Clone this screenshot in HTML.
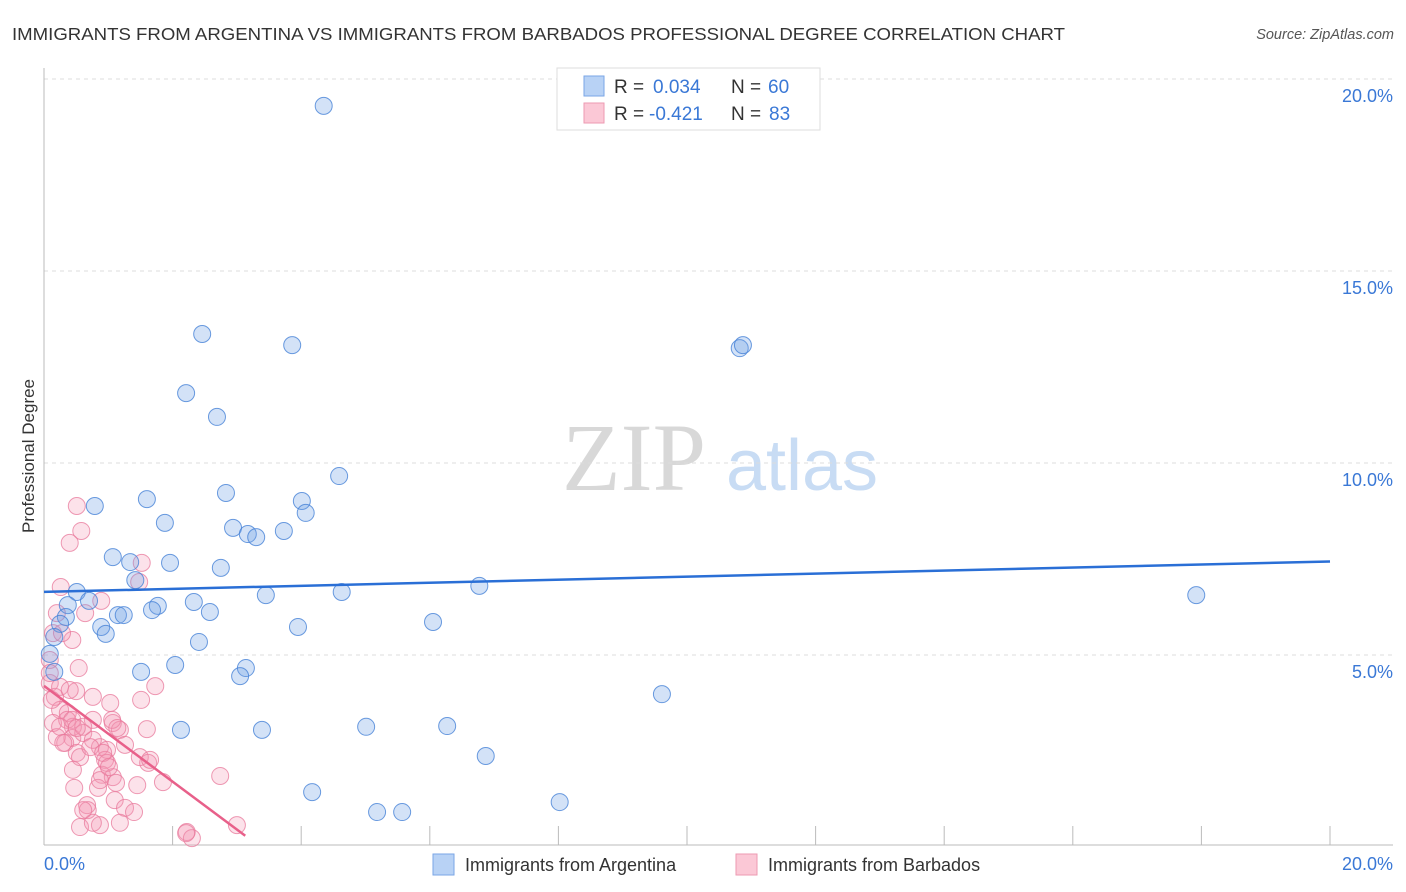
<!DOCTYPE html>
<html><head><meta charset="utf-8"><style>
html,body{margin:0;padding:0;background:#fff;}
svg{display:block;font-family:"Liberation Sans",sans-serif;}
</style></head><body>
<svg id="chart" width="1406" height="892" xmlns="http://www.w3.org/2000/svg">
<text x="12" y="40" font-size="17.5" fill="#333" textLength="1053" lengthAdjust="spacingAndGlyphs">IMMIGRANTS FROM ARGENTINA VS IMMIGRANTS FROM BARBADOS PROFESSIONAL DEGREE CORRELATION CHART</text>
<text x="1394" y="39" font-size="14.5" fill="#555" font-style="italic" text-anchor="end">Source: ZipAtlas.com</text>
<text transform="translate(34,456) rotate(-90)" font-size="17" fill="#333" text-anchor="middle">Professional Degree</text>
<g>
<text x="634" y="490" font-size="96" fill="#d8d8d8" font-family="Liberation Serif,serif" text-anchor="middle">ZIP</text>
<text x="802" y="490" font-size="72" fill="#c8dcf4" text-anchor="middle">atlas</text>
</g>
<g id="grid"></g>
<g id="axes"></g>
<g id="points"></g>
<g id="trends"></g>
<g>
<rect x="557" y="68" width="263" height="62" fill="#fff" stroke="#ddd"/>
<rect x="584" y="76" width="20" height="20" fill="#b8d2f5" stroke="#7aa6e6"/>
<rect x="584" y="103" width="20" height="20" fill="#fbc8d6" stroke="#ec9ab2"/>
<text x="614" y="93" font-size="19" fill="#333">R =</text>
<text x="653" y="93" font-size="19" fill="#3a78d6">0.034</text>
<text x="731" y="93" font-size="19" fill="#333">N =</text>
<text x="768" y="93" font-size="19" fill="#3a78d6">60</text>
<text x="614" y="120" font-size="19" fill="#333">R =</text>
<text x="649" y="120" font-size="19" fill="#3a78d6">-0.421</text>
<text x="731" y="120" font-size="19" fill="#333">N =</text>
<text x="769" y="120" font-size="19" fill="#3a78d6">83</text>
</g>
<g>
<rect x="433" y="854" width="21" height="21" fill="#b8d2f5" stroke="#7aa6e6"/>
<text x="465" y="871" font-size="18" fill="#333">Immigrants from Argentina</text>
<rect x="736" y="854" width="21" height="21" fill="#fbc8d6" stroke="#ec9ab2"/>
<text x="768" y="871" font-size="18" fill="#333">Immigrants from Barbados</text>
</g>
</svg>
<script>
const yTicks=[5,10,15,20];
const yTickLabels=["5.0%","10.0%","15.0%","20.0%"];
const xTickCount=10;
const xMin=0,xMax=20,yMin=0,yMax=20;
const argX=[4.35,2.46,3.86,10.82,10.87,2.21,2.69,4.59,0.79,1.60,2.83,4.01,4.07,1.88,2.94,3.17,3.30,3.73,1.07,1.34,1.96,2.75,1.42,6.77,0.51,4.63,3.45,17.92,0.70,2.33,1.77,1.68,2.58,0.37,1.15,1.24,0.34,0.25,0.89,3.95,6.05,0.96,0.16,2.41,0.09,2.04,3.14,3.05,1.51,0.16,9.61,2.13,3.39,5.01,6.27,6.87,4.17,8.02,5.18,5.57];
const argY=[19.30,13.36,13.07,12.99,13.07,11.82,11.20,9.66,8.88,9.06,9.22,9.01,8.70,8.44,8.31,8.15,8.07,8.23,7.55,7.42,7.40,7.27,6.95,6.80,6.64,6.64,6.56,6.56,6.41,6.38,6.28,6.17,6.12,6.30,6.04,6.04,5.99,5.81,5.73,5.73,5.86,5.55,5.47,5.34,5.03,4.74,4.66,4.45,4.56,4.56,3.98,3.05,3.05,3.13,3.15,2.37,1.43,1.17,0.91,0.91];
const barX=[0.51,0.58,0.40,1.52,1.48,0.26,0.89,0.20,0.64,0.44,0.14,0.54,0.09,0.50,0.76,1.03,1.73,1.51,0.09,0.17,0.25,0.37,0.14,0.36,0.45,0.76,1.07,1.18,1.60,0.44,0.20,0.61,0.33,0.87,0.98,1.26,0.51,0.76,0.95,1.49,1.62,0.56,0.45,0.90,1.07,1.12,1.45,1.85,2.74,0.84,0.47,1.10,0.67,0.68,1.26,1.40,0.56,0.87,1.18,0.76,3.00,2.22,2.30,0.25,0.09,0.12,0.25,0.44,0.61,0.30,0.28,0.72,1.06,1.14,1.65,0.98,0.87,0.61,0.92,1.01,0.51,2.21,0.40];
const barY=[8.88,8.23,7.92,7.40,6.90,6.77,6.41,6.09,6.09,5.39,5.57,4.66,4.87,4.06,3.91,3.75,4.19,3.83,4.27,3.91,3.57,3.49,3.23,3.31,3.13,3.31,3.23,3.05,3.07,2.84,2.86,2.97,2.71,2.60,2.53,2.66,2.45,2.79,2.27,2.34,2.19,2.34,2.01,1.88,1.82,1.67,1.61,1.69,1.85,1.54,1.54,1.22,1.09,0.96,1.02,0.91,0.52,0.57,0.63,0.63,0.57,0.39,0.23,4.17,4.53,3.83,3.13,3.31,3.13,2.71,5.57,2.60,3.31,3.10,2.27,2.19,1.74,0.96,2.45,2.08,3.10,0.36,4.09];

const NS="http://www.w3.org/2000/svg";
const X0=44,X1=1330,Y0=847,Y1=79;
function sx(v){return X0+(v-xMin)/(xMax-xMin)*(X1-X0);}
function sy(v){return Y0-(v-yMin)/(yMax-yMin)*(Y0-Y1);}
function mk(tag,attrs,parent){const e=document.createElementNS(NS,tag);for(const k in attrs)e.setAttribute(k,attrs[k]);parent.appendChild(e);return e;}
const grid=document.getElementById('grid'),axes=document.getElementById('axes'),pts=document.getElementById('points'),tr=document.getElementById('trends');
yTicks.forEach((t,i)=>{
  const l=mk('line',{x1:X0,x2:1393,y1:sy(t),y2:sy(t),stroke:'#ddd','stroke-dasharray':'4,4'},grid);
  
  
  const tx=mk('text',{x:1393,y:sy(t)+23,'font-size':18,fill:'#3a78d6','text-anchor':'end'},axes);
  tx.textContent=yTickLabels[i];
  
  
});
const ax=mk('line',{x1:X0,x2:1393,y1:845,y2:845,stroke:'#bbb'},axes);


const ay=mk('line',{x1:X0,x2:X0,y1:68,y2:845,stroke:'#bbb'},axes);


for(let i=1;i<=xTickCount;i++){
  const xv=xMin+i*(xMax-xMin)/xTickCount;
  const t=mk('line',{x1:sx(xv),x2:sx(xv),y1:826,y2:845,stroke:'#bbb'},axes);
  
  
}
const xl0=mk('text',{x:44,y:870,'font-size':18,fill:'#3a78d6'},axes);xl0.textContent='0.0%';


const xl1=mk('text',{x:1393,y:870,'font-size':18,fill:'#3a78d6','text-anchor':'end'},axes);xl1.textContent='20.0%';



function drawSeries(xs,ys,fill,stroke,name){
  xs.forEach((v,i)=>{
    const c=mk('circle',{cx:sx(v),cy:sy(ys[i]),r:8.5,fill:fill,stroke:stroke,'stroke-width':1},pts);
    
    
  });
}
drawSeries(barX,barY,'rgba(244,150,178,0.28)','rgba(232,120,155,0.75)','point-barbados');
drawSeries(argX,argY,'rgba(110,160,230,0.3)','rgba(70,130,215,0.8)','point-argentina');

function reg(xs,ys){const n=xs.length;let mx=0,my=0;for(let i=0;i<n;i++){mx+=xs[i];my+=ys[i];}mx/=n;my/=n;let sxy=0,sxx=0;for(let i=0;i<n;i++){sxy+=(xs[i]-mx)*(ys[i]-my);sxx+=(xs[i]-mx)**2;}const b=sxy/sxx;return [my-b*mx,b];}
const ra=reg(argX,argY),rb=reg(barX,barY);
const la=mk('line',{x1:sx(0),y1:sy(ra[0]),x2:sx(20),y2:sy(ra[0]+ra[1]*20),stroke:'#2a6fd6','stroke-width':2.5},tr);


const xe=Math.max(...barX)+0.13;
const lb=mk('line',{x1:sx(0),y1:sy(rb[0]),x2:sx(xe),y2:sy(rb[0]+rb[1]*xe),stroke:'#e8608a','stroke-width':2.5},tr);


</script>
</body></html>
